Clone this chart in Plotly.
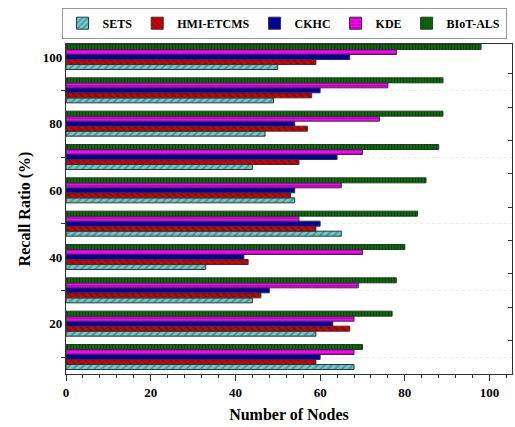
import plotly.graph_objects as go

# Recall ratio groups (y) and the number of nodes reached by each method (x)
recall = [10, 20, 30, 40, 50, 60, 70, 80, 90, 100]

sets_nodes = [68, 59, 44, 33, 65, 54, 44, 47, 49, 50]
hmi_nodes = [59, 67, 46, 43, 59, 53, 55, 57, 58, 59]
ckhc_nodes = [60, 63, 48, 42, 60, 54, 64, 54, 60, 67]
kde_nodes = [68, 68, 69, 70, 55, 65, 70, 74, 76, 78]
biot_nodes = [70, 77, 78, 80, 83, 85, 88, 89, 89, 98]

series = [
    ("SETS", sets_nodes, "#66CCCC", "#1f5f66", "/", 5),
    ("HMI-ETCMS", hmi_nodes, "#D40000", "#5a0000", "\\", 5),
    ("CKHC", ckhc_nodes, "#0000B0", "#000033", "x", 4),
    ("KDE", kde_nodes, "#FF00FF", "#660066", "-", 4),
    ("BIoT-ALS", biot_nodes, "#007000", "#001a00", "|", 3),
]

FONT = "Liberation Serif"
AXIS = "#333333"

fig = go.Figure()
for name, vals, bg, fg, shape, size in series:
    fig.add_trace(go.Bar(
        name=name,
        x=vals,
        y=recall,
        orientation="h",
        marker=dict(
            color=bg,
            line=dict(color="#333333", width=1),
            pattern=dict(shape=shape, bgcolor=bg, fgcolor=fg, size=size, solidity=0.35),
        ),
    ))

# Helper trace carrying the decorative top / right tick axes
fig.add_trace(go.Scatter(x=[0], y=[50], xaxis="x2", yaxis="y2", mode="markers",
                         marker=dict(opacity=0), showlegend=False, hoverinfo="skip"))

fig.update_layout(
    width=515,
    height=427,
    margin=dict(l=66, r=3, t=44, b=53, autoexpand=False),
    paper_bgcolor="white",
    plot_bgcolor="white",
    barmode="group",
    bargap=0.25,
    bargroupgap=0,
    font=dict(family=FONT, size=13, color="black"),
    legend=dict(
        orientation="h",
        x=-0.01,
        xanchor="left",
        y=1.11,
        yanchor="top",
        bordercolor="#999999",
        borderwidth=1,
        font=dict(family=FONT, size=12, color="black", weight="bold"),
        traceorder="normal",
        itemwidth=30,
    ),
    xaxis=dict(
        range=[0, 105.3],
        tickvals=[0, 20, 40, 60, 80, 100],
        ticks="outside",
        ticklen=6,
        tickwidth=1.2,
        tickcolor=AXIS,
        minor=dict(dtick=4, tick0=0, ticks="outside", ticklen=3, tickcolor=AXIS),
        showgrid=False,
        zeroline=False,
        showline=True,
        mirror=True,
        linecolor=AXIS,
        linewidth=1.2,
        tickfont=dict(family=FONT, size=13, weight="bold"),
        title=dict(text="Number of Nodes", font=dict(family=FONT, size=16, weight="bold"), standoff=10),
    ),
    yaxis=dict(
        range=[4.9, 103.9],
        tickvals=[20, 40, 60, 80, 100],
        ticks="",
        minor=dict(tickvals=[10, 30, 50, 70, 90], ticks="outside", ticklen=4,
                   tickcolor=AXIS, showgrid=True, gridcolor="#ececec",
                   griddash="dot", gridwidth=1),
        showgrid=False,
        zeroline=False,
        showline=True,
        mirror=True,
        linecolor=AXIS,
        linewidth=1.2,
        tickfont=dict(family=FONT, size=13, weight="bold"),
        title=dict(text="Recall Ratio (%)", font=dict(family=FONT, size=16, weight="bold"), standoff=8),
    ),
    xaxis2=dict(
        overlaying="x",
        anchor="y2",
        side="top",
        range=[0, 99.3],
        dtick=10,
        ticks="inside",
        ticklen=4,
        tickcolor=AXIS,
        showticklabels=False,
        showgrid=False,
        zeroline=False,
        showline=False,
    ),
    yaxis2=dict(
        overlaying="y",
        anchor="x2",
        side="right",
        range=[4.9, 103.9],
        tickvals=[5, 15, 25, 35, 45, 55, 65, 75, 85, 95],
        ticks="inside",
        ticklen=4,
        tickcolor=AXIS,
        showticklabels=False,
        showgrid=False,
        zeroline=False,
        showline=False,
    ),
)

fig.write_html("out.html")
